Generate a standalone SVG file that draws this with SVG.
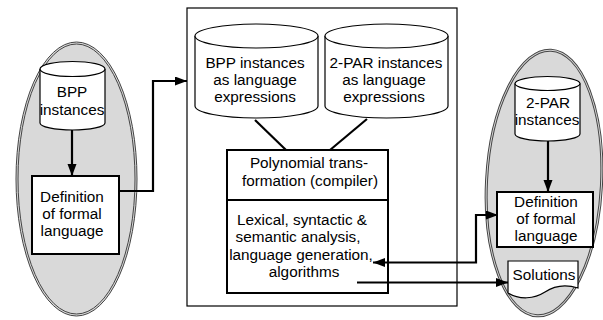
<svg xmlns="http://www.w3.org/2000/svg" width="603" height="320" viewBox="0 0 603 320">
  <style>
    text { font-family: "Liberation Sans", Arial, sans-serif; font-size: 15.3px; fill: #000; text-anchor: middle; }
    .zone { fill: #d9d9d9; stroke: #444; stroke-width: 1; }
    .zone-in { fill: none; stroke: #444; stroke-width: 1; }
    .box { fill: #fff; stroke: #000; stroke-width: 2; }
    .frame { fill: #fff; stroke: #000; stroke-width: 1.2; }
    .db { fill: #fff; stroke: #000; stroke-width: 1.2; }
    .link { fill: none; stroke: #000; stroke-width: 2.2; }
  </style>
  <defs>
    <marker id="arrow" markerUnits="userSpaceOnUse" markerWidth="13" markerHeight="10" refX="12" refY="4.5" orient="auto-start-reverse">
      <path d="M0,0 L12,4.5 L0,9 Z" fill="#000"/>
    </marker>
  </defs>

  <!-- left zone: BPP side -->
  <g id="zone-bpp">
    <ellipse class="zone" cx="76.5" cy="179" rx="60.5" ry="137"/>
    <ellipse class="zone-in" cx="76.5" cy="179" rx="58.5" ry="135"/>
  </g>

  <!-- right zone: 2-PAR side -->
  <g id="zone-2par" transform="rotate(3 544 183)">
    <ellipse class="zone" cx="544" cy="183" rx="58.5" ry="134"/>
    <ellipse class="zone-in" cx="544" cy="183" rx="56.5" ry="132"/>
  </g>

  <!-- central compiler frame -->
  <g id="frame">
    <rect class="frame" x="187" y="8" width="270" height="298"/>
  </g>

  <g id="bpp-instances">
    <path class="db" d="M40,69 V123 A32.5,7 0 0 0 105,123 V69"/>
    <ellipse class="db" cx="72.5" cy="69" rx="32.5" ry="7.5"/>
    <text x="72" y="97">BPP</text>
    <text x="72" y="115">instances</text>
  </g>

  <g id="bpp-definition">
    <rect class="box" x="32" y="176" width="87" height="78"/>
    <text x="72" y="202">Definition</text>
    <text x="72" y="219">of formal</text>
    <text x="72" y="236">language</text>
  </g>

  <g id="bpp-expressions">
    <path class="db" d="M195,36 V106 A61.5,12 0 0 0 318,106 V36"/>
    <ellipse class="db" cx="256.5" cy="36" rx="61.5" ry="12"/>
    <text x="255" y="68">BPP instances</text>
    <text x="255" y="85">as language</text>
    <text x="255" y="102">expressions</text>
  </g>

  <g id="par-expressions">
    <path class="db" d="M325,36 V106 A61.5,12 0 0 0 448,106 V36"/>
    <ellipse class="db" cx="386.5" cy="36" rx="61.5" ry="12"/>
    <text x="386" y="68">2-PAR instances</text>
    <text x="384" y="85">as language</text>
    <text x="384" y="102">expressions</text>
  </g>

  <g id="compiler">
    <rect class="box" x="227" y="150" width="161" height="50" stroke-width="1.8"/>
    <text x="309" y="168">Polynomial trans-</text>
    <text x="310" y="186">formation (compiler)</text>
  </g>

  <g id="analysis">
    <rect class="box" x="227" y="200" width="161" height="93" stroke-width="1.8"/>
    <text x="302" y="225">Lexical, syntactic &amp;</text>
    <text x="298" y="242">semantic analysis,</text>
    <text x="301" y="260">language generation,</text>
    <text x="304" y="277">algorithms</text>
  </g>

  <g id="par-instances">
    <path class="db" d="M515,83.5 V134 A32.5,7 0 0 0 580,134 V83.5"/>
    <ellipse class="db" cx="547.5" cy="83.5" rx="32.5" ry="7"/>
    <text x="548" y="108">2-PAR</text>
    <text x="547" y="125">instances</text>
  </g>

  <g id="par-definition">
    <rect class="box" x="497" y="192" width="96" height="55"/>
    <text x="546" y="207">Definition</text>
    <text x="546" y="224">of formal</text>
    <text x="546" y="241">language</text>
  </g>

  <g id="solutions">
    <path class="db" d="M508,261 H578 V288 C565,284 554,286 545,292 C534,299 520,300 508,293 Z"/>
    <text x="544" y="280">Solutions</text>
  </g>

  <!-- connectors -->
  <g id="connectors">
    <line class="link" x1="72" y1="130" x2="72" y2="176" marker-end="url(#arrow)"/>
    <polyline class="link" points="119,191 153,191 153,81 187,81" marker-end="url(#arrow)"/>
    <line class="link" x1="255" y1="120" x2="286" y2="150" stroke-width="2.6"/>
    <line class="link" x1="367" y1="119" x2="330" y2="150" stroke-width="2.6"/>
    <line class="link" x1="548" y1="141" x2="548" y2="192" marker-end="url(#arrow)"/>
    <polyline class="link" points="373,262.5 476,262.5 476,215 498,215" marker-start="url(#arrow)" marker-end="url(#arrow)"/>
    <polyline class="link" points="357,282.5 508,282.5" marker-end="url(#arrow)"/>
  </g>
</svg>
